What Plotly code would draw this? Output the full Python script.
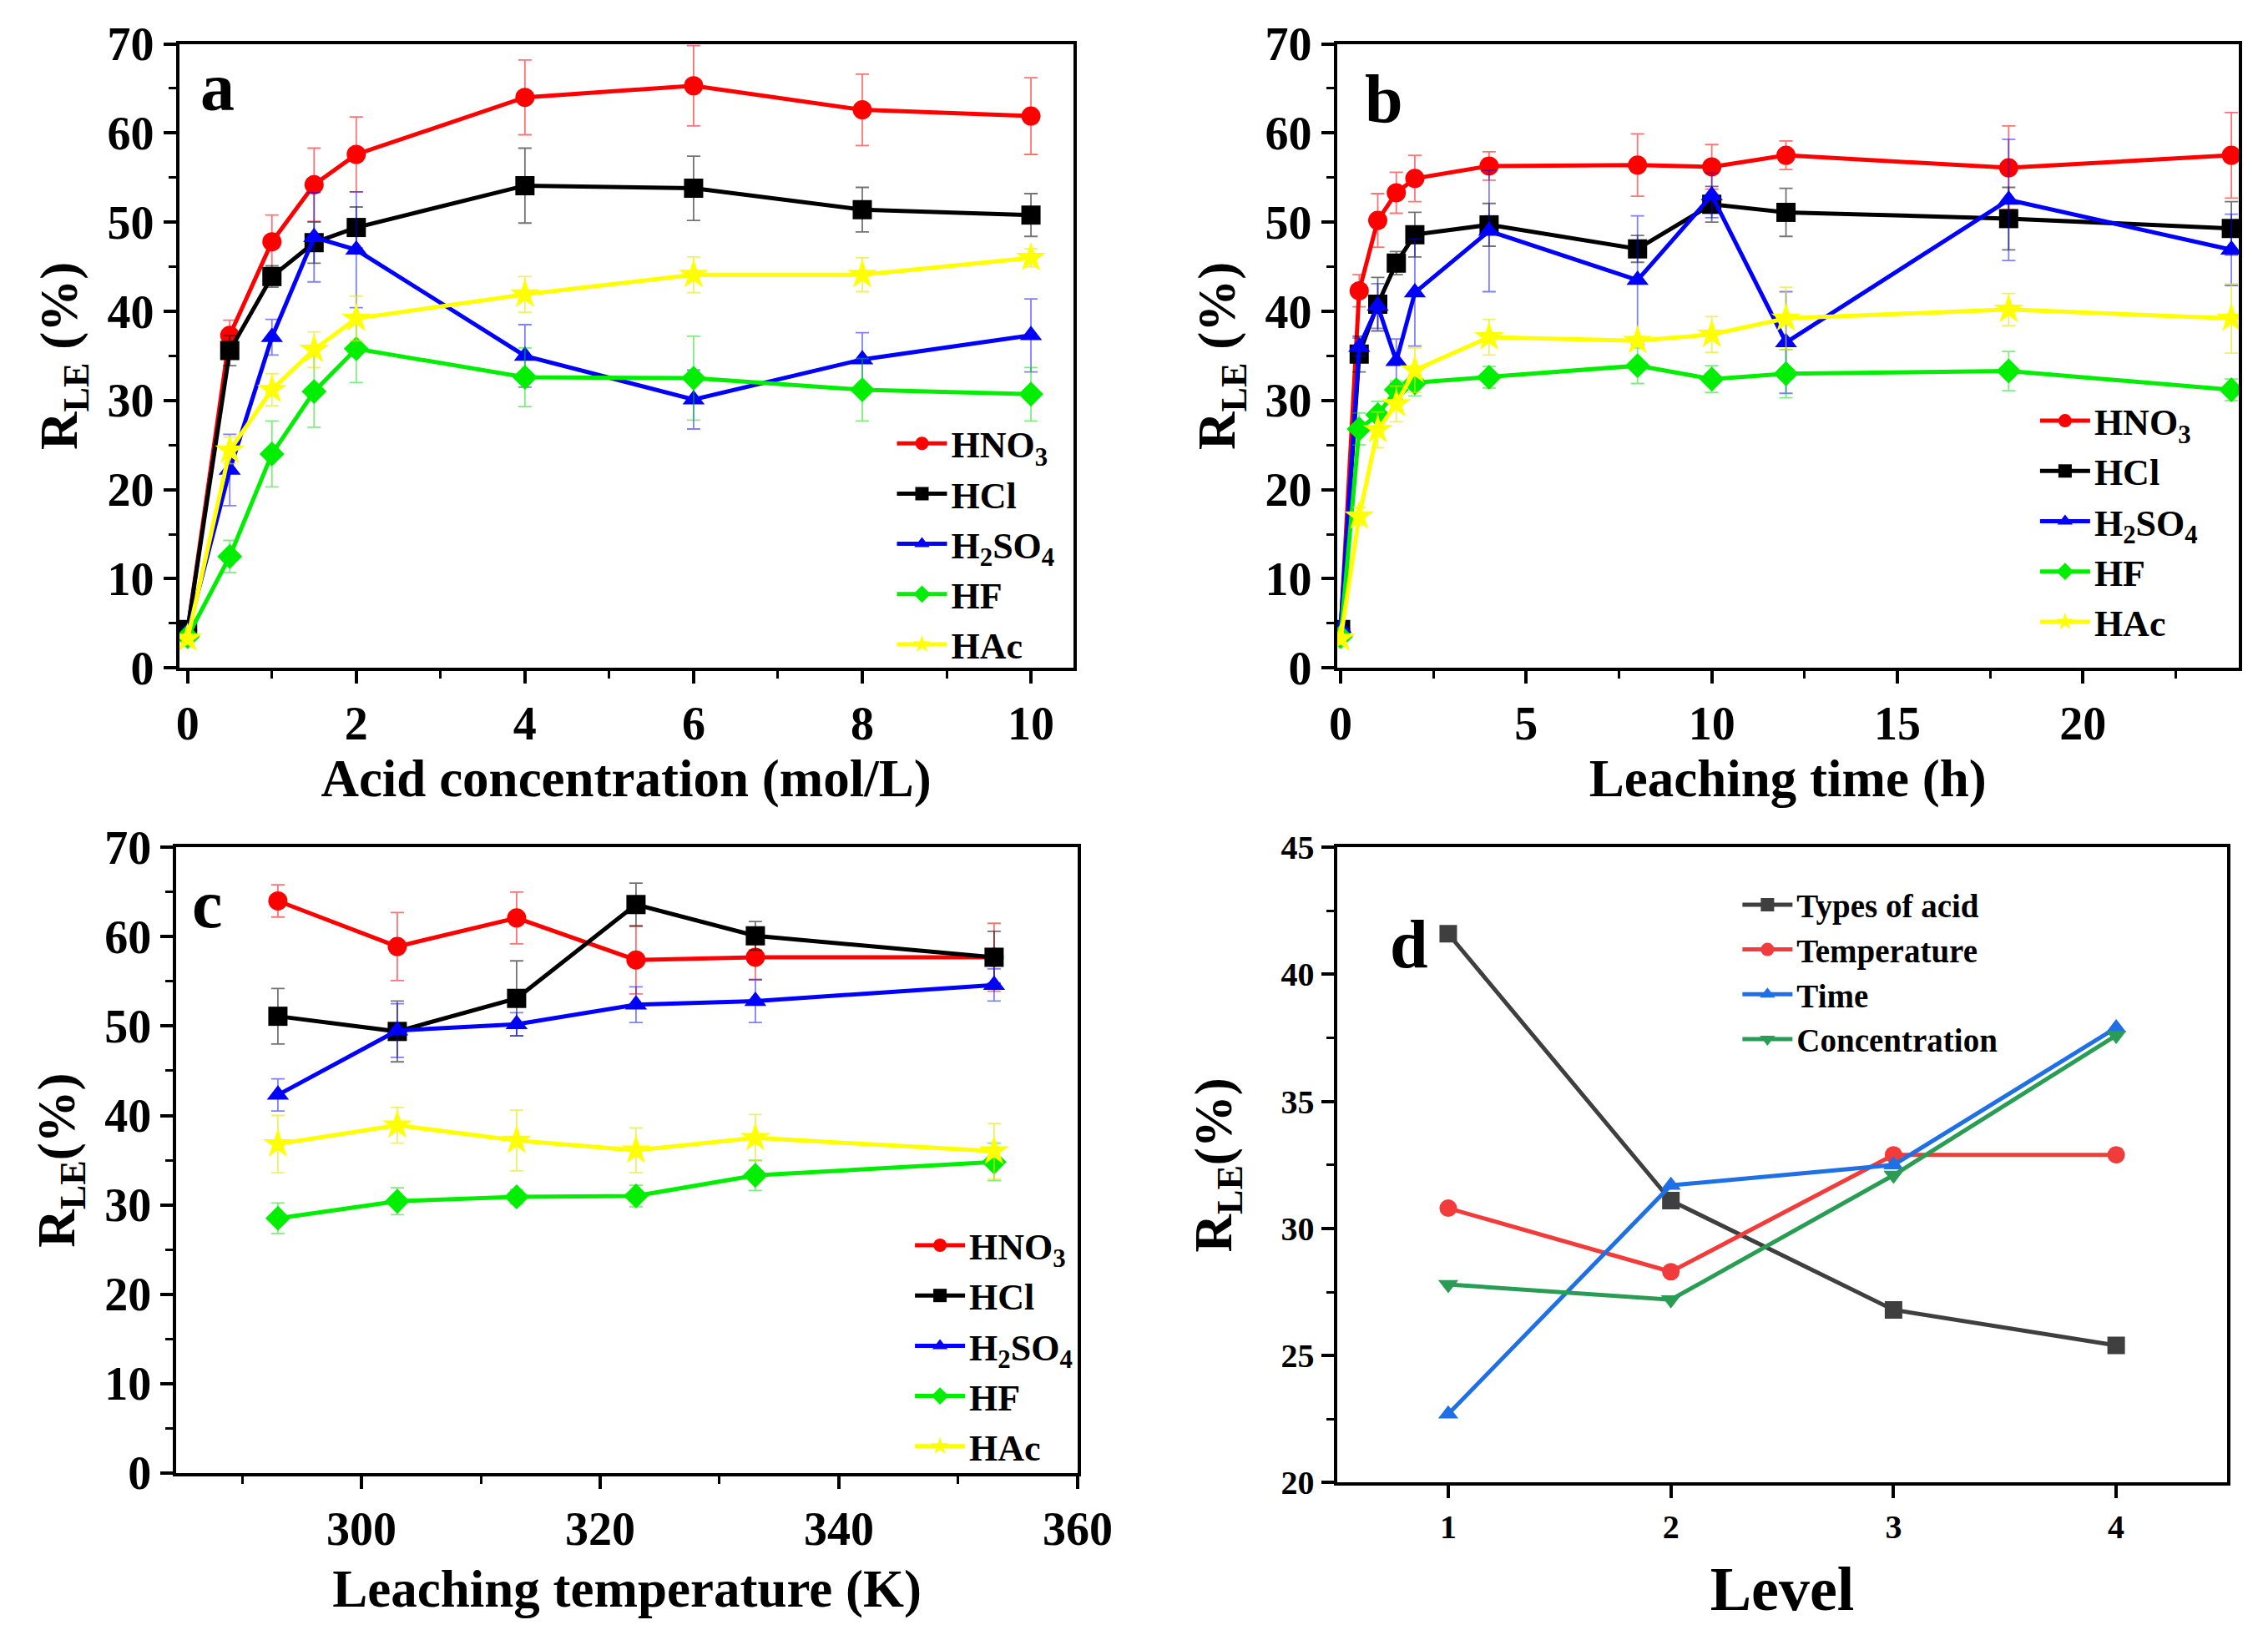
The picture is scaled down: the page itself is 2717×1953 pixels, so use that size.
import plotly.graph_objects as go

# panel a: acid concentration
conc = [0, 0.5, 1, 1.5, 2, 4, 6, 8, 10]
a_hno3 = [4.2, 37.3, 47.8, 54.2, 57.6, 64.0, 65.3, 62.6, 61.9]
a_hno3_err = [0.5, 1.7, 3.0, 4.1, 4.2, 4.2, 4.5, 4.0, 4.3]
a_hcl = [4.3, 35.6, 43.9, 47.7, 49.4, 54.1, 53.8, 51.4, 50.8]
a_hcl_err = [0.5, 1.7, 1.2, 2.3, 2.3, 4.2, 3.6, 2.5, 2.4]
a_h2so4 = [4.0, 22.2, 37.1, 48.3, 46.9, 35.0, 30.1, 34.6, 37.3]
a_h2so4_err = [0.5, 4.0, 2.0, 5.0, 6.5, 3.5, 3.3, 3.0, 4.1]
a_hf = [3.5, 12.5, 24.0, 31.0, 35.8, 32.6, 32.5, 31.2, 30.7]
a_hf_err = [0.5, 1.8, 3.7, 4.0, 3.8, 3.3, 4.7, 3.5, 3.0]
a_hac = [3.3, 24.4, 31.2, 35.7, 39.2, 41.9, 44.1, 44.1, 46.0]
a_hac_err = [0.5, 1.5, 1.8, 2.0, 2.5, 2.0, 2.0, 1.9, 1.0]

# panel b: leaching time
hours = [0, 0.5, 1, 1.5, 2, 4, 8, 10, 12, 18, 24]
b_hno3 = [4.2, 42.3, 50.2, 53.3, 54.9, 56.3, 56.4, 56.2, 57.5, 56.1, 57.5]
b_hno3_err = [0.5, 1.8, 3.0, 2.3, 2.6, 1.6, 3.5, 2.5, 1.6, 4.7, 4.8]
b_hcl = [4.3, 35.2, 40.8, 45.4, 48.6, 49.7, 47.0, 52.0, 51.1, 50.4, 49.3]
b_hcl_err = [0.5, 2.0, 3.0, 1.3, 2.5, 2.4, 1.5, 2.0, 2.7, 3.5, 3.0]
b_h2so4 = [4.5, 36.0, 40.6, 34.4, 42.1, 49.0, 43.5, 53.0, 36.5, 52.5, 46.9]
b_h2so4_err = [0.5, 1.0, 2.5, 2.5, 6.0, 6.8, 7.2, 2.5, 5.7, 6.8, 4.0]
b_hf = [3.5, 26.8, 28.4, 31.2, 32.0, 32.6, 33.9, 32.4, 33.0, 33.3, 31.2]
b_hf_err = [0.5, 1.8, 1.5, 1.0, 1.5, 1.2, 2.0, 1.5, 2.7, 2.2, 1.2]
b_hac = [3.3, 17.0, 26.7, 29.6, 33.4, 37.1, 36.7, 37.4, 39.2, 40.2, 39.2]
b_hac_err = [0.5, 1.0, 2.0, 2.0, 2.5, 2.0, 0.5, 2.0, 3.5, 1.8, 3.9]

# panel c: leaching temperature
temps = [293, 303, 313, 323, 333, 353]
c_hno3 = [64.0, 58.9, 62.1, 57.4, 57.7, 57.7]
c_hno3_err = [1.8, 3.8, 2.9, 3.8, 2.5, 3.8]
c_hcl = [51.1, 49.4, 53.1, 63.6, 60.1, 57.7]
c_hcl_err = [3.1, 3.4, 4.2, 2.4, 1.6, 2.9]
c_h2so4 = [42.3, 49.5, 50.2, 52.4, 52.8, 54.6]
c_h2so4_err = [1.8, 3.0, 1.3, 2.0, 2.4, 1.8]
c_hf = [28.5, 30.4, 30.9, 31.0, 33.3, 34.8]
c_hf_err = [1.7, 1.5, 0.8, 1.2, 1.7, 2.1]
c_hac = [36.8, 38.9, 37.2, 36.1, 37.5, 36.0]
c_hac_err = [3.2, 2.0, 3.4, 2.5, 2.6, 3.1]

# panel d: level analysis
levels = [1, 2, 3, 4]
d_acid = [41.6, 31.1, 26.8, 25.4]
d_temp = [30.8, 28.3, 32.9, 32.9]
d_time = [22.7, 31.7, 32.5, 37.9]
d_conc = [27.8, 27.2, 32.1, 37.6]

acid_names = ["HNO<sub>3</sub>", "HCl", "H<sub>2</sub>SO<sub>4</sub>", "HF", "HAc"]
acid_colors = ["#ff0000", "#000000", "#0000ff", "#00ee00", "#ffff00"]
err_colors = ["rgba(255,0,0,0.55)", "rgba(0,0,0,0.55)", "rgba(0,0,255,0.5)",
              "rgba(0,220,0,0.5)", "rgba(230,230,0,0.6)"]
acid_symbols = ["circle", "square", "triangle-up", "diamond", "star"]

SERIF = "Liberation Serif"

fig = go.Figure()

panels = [
    (conc, [a_hno3, a_hcl, a_h2so4, a_hf, a_hac],
     [a_hno3_err, a_hcl_err, a_h2so4_err, a_hf_err, a_hac_err], "x", "y", "legend"),
    (hours, [b_hno3, b_hcl, b_h2so4, b_hf, b_hac],
     [b_hno3_err, b_hcl_err, b_h2so4_err, b_hf_err, b_hac_err], "x2", "y2", "legend2"),
    (temps, [c_hno3, c_hcl, c_h2so4, c_hf, c_hac],
     [c_hno3_err, c_hcl_err, c_h2so4_err, c_hf_err, c_hac_err], "x3", "y3", "legend3"),
]

for xs, series, errs, xa, ya, leg in panels:
    for i, name in enumerate(acid_names):
        fig.add_trace(go.Scatter(
            x=xs, y=series[i], name=name, mode="lines+markers",
            xaxis=xa, yaxis=ya, legend=leg,
            line=dict(color=acid_colors[i], width=5),
            marker=dict(symbol=acid_symbols[i], size=23 if i != 4 else 27,
                        color=acid_colors[i]),
            error_y=dict(type="data", array=errs[i], color=err_colors[i],
                         thickness=1.8, width=8),
        ))

d_series = [
    ("Types of acid", d_acid, "#3f3f3f", "square"),
    ("Temperature", d_temp, "#f23b3b", "circle"),
    ("Time", d_time, "#1f6fe5", "triangle-up"),
    ("Concentration", d_conc, "#2a9d55", "triangle-down"),
]
for name, vals, col, sym in d_series:
    fig.add_trace(go.Scatter(
        x=levels, y=vals, name=name, mode="lines+markers",
        xaxis="x4", yaxis="y4", legend="legend4",
        line=dict(color=col, width=5),
        marker=dict(symbol=sym, size=21, color=col),
    ))

tick_font = dict(family=SERIF, size=56, color="black", weight="bold")
title_font = dict(family=SERIF, size=63, color="black", weight="bold")
minor_style = dict(ticks="outside", ticklen=9, tickwidth=3, tickcolor="black")


def axis_style(**kw):
    base = dict(
        showline=True, linecolor="black", linewidth=4, mirror=True,
        ticks="outside", ticklen=15, tickwidth=3.5, tickcolor="black",
        showgrid=False, zeroline=False, tickfont=tick_font,
        title_font=title_font, automargin=False,
    )
    base.update(kw)
    return base


fig.update_layout(
    template="none",
    plot_bgcolor="white", paper_bgcolor="white",
    margin=dict(l=0, r=0, t=0, b=0),
    showlegend=True,
    xaxis=axis_style(domain=[0.0765, 0.473], anchor="y", range=[-0.1, 10.5],
                     tickvals=[0, 2, 4, 6, 8, 10],
                     minor=dict(tickvals=[1, 3, 5, 7, 9], **minor_style),
                     title=dict(text="Acid concentration (mol/L)", standoff=10)),
    yaxis=axis_style(domain=[0.591, 0.977], anchor="x", range=[0, 70],
                     dtick=10, minor=dict(dtick=5, **minor_style),
                     title=dict(text="R<sub>LE</sub> (%)", standoff=16)),
    xaxis2=axis_style(domain=[0.590, 0.990], anchor="y2", range=[-0.1, 24.2],
                      tickvals=[0, 5, 10, 15, 20],
                      minor=dict(dtick=2.5, **minor_style),
                      title=dict(text="Leaching time (h)", standoff=10)),
    yaxis2=axis_style(domain=[0.591, 0.977], anchor="x2", range=[0, 70],
                      dtick=10, minor=dict(dtick=5, **minor_style),
                      title=dict(text="R<sub>LE</sub> (%)", standoff=16)),
    xaxis3=axis_style(domain=[0.0753, 0.475], anchor="y3", range=[284.5, 360],
                      tickvals=[300, 320, 340, 360],
                      minor=dict(tickvals=[290, 310, 330, 350], **minor_style),
                      title=dict(text="Leaching temperature (K)", standoff=20)),
    yaxis3=axis_style(domain=[0.093, 0.480], anchor="x3", range=[0, 70],
                      dtick=10, minor=dict(dtick=5, **minor_style),
                      title=dict(text="R<sub>LE</sub>(%)", standoff=16)),
    xaxis4=axis_style(domain=[0.590, 0.985], anchor="y4", range=[0.5, 4.5],
                      tickvals=[1, 2, 3, 4],
                      tickfont=dict(family=SERIF, size=40, color="black", weight="bold"),
                      title=dict(text="Level", standoff=34,
                                 font=dict(family=SERIF, size=74, color="black",
                                           weight="bold"))),
    yaxis4=axis_style(domain=[0.087, 0.480], anchor="x4", range=[20, 45],
                      dtick=5, minor=dict(dtick=2.5, **minor_style),
                      tickfont=dict(family=SERIF, size=40, color="black", weight="bold"),
                      title=dict(text="R<sub>LE</sub>(%)", standoff=40)),
)

common_leg = dict(bgcolor="rgba(0,0,0,0)", borderwidth=0,
                  font=dict(family=SERIF, size=44, color="black", weight="bold"),
                  xanchor="left", yanchor="top", itemwidth=60)
fig.update_layout(
    legend=dict(x=0.393, y=0.748, **common_leg),
    legend2=dict(x=0.900, y=0.762, **common_leg),
    legend3=dict(x=0.401, y=0.252, **common_leg),
    legend4=dict(x=0.768, y=0.461, bgcolor="rgba(0,0,0,0)", borderwidth=0,
                 font=dict(family=SERIF, size=39, color="black", weight="bold"),
                 xanchor="left", yanchor="top", itemwidth=60),
)

label_font = dict(family=SERIF, size=82, color="black", weight="bold")
for txt, x, y in [("a", 0.0935, 0.950), ("b", 0.611, 0.943),
                  ("c", 0.089, 0.445), ("d", 0.622, 0.42)]:
    fig.add_annotation(text=txt, x=x, y=y, xref="paper", yref="paper",
                       xanchor="center", yanchor="middle",
                       showarrow=False, font=label_font)

fig.write_html("out.html")
